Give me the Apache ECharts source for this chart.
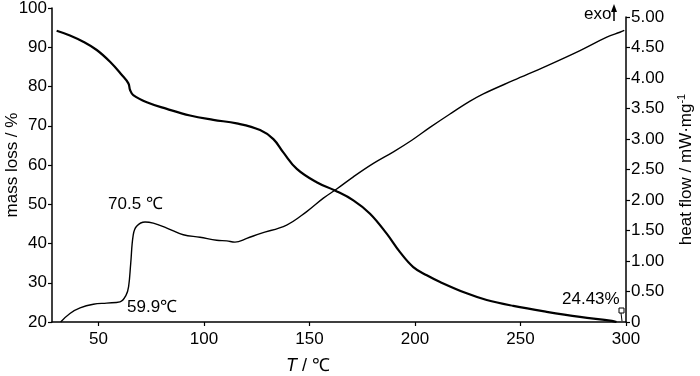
<!DOCTYPE html>
<html>
<head>
<meta charset="utf-8">
<script src="https://cdn.jsdelivr.net/npm/echarts@6/dist/echarts.min.js"></script>
<style>
  html, body { margin: 0; padding: 0; background: #fff; }
  #chart { width: 700px; height: 376px; }
</style>
</head>
<body>
<div id="chart"></div>
<script>
// TG / DSC curves, temperature in ℃
const FONT = "'Liberation Sans', Arial, sans-serif";

const tempTicks = [50, 100, 150, 200, 250, 300];

// mass loss curve (left axis, %)
const massT = [30.2, 36.5, 42.8, 49.2, 55.5, 61.0, 64.2, 65.0, 66.5, 72.9, 82.4, 93.4, 104.4, 115.5,
  126.6, 132.9, 137.6, 144.0, 153.4, 162.1, 170.8, 178.7, 186.6, 192.9, 199.2, 205.6, 211.9,
  224.5, 234.0, 246.6, 262.4, 278.2, 293.3, 295.5];
const massVal = [94.2, 93.0, 91.4, 89.3, 86.3, 83.0, 80.8, 79.1, 77.8, 76.0, 74.3, 72.6, 71.5, 70.6,
  68.9, 66.6, 63.2, 59.0, 55.6, 53.5, 51.0, 47.6, 42.5, 37.8, 34.0, 31.9, 30.2,
  27.3, 25.6, 24.1, 22.6, 21.3, 20.3, 20.0];

// heat flow curve (right axis, mW·mg-1)
const heatT = [32.1, 36.5, 41.3, 47.6, 53.9, 60.2, 63.1, 64.3, 65.3, 66.5, 68.1, 72.1, 76.0, 82.4,
  90.2, 98.1, 106.0, 110.8, 114.7, 120.3, 126.6, 139.2, 148.7, 156.6, 162.9, 170.8, 180.3,
  189.8, 198.5, 207.1, 216.6, 226.1, 232.4, 246.6, 262.5, 278.2, 290.9, 297.1, 299.2];
const heatVal = [0.0, 0.14, 0.23, 0.29, 0.31, 0.33, 0.44, 0.58, 0.96, 1.43, 1.57, 1.64, 1.62, 1.54,
  1.43, 1.39, 1.34, 1.33, 1.31, 1.37, 1.45, 1.59, 1.81, 2.03, 2.18, 2.38, 2.60,
  2.79, 2.98, 3.19, 3.41, 3.62, 3.74, 3.96, 4.20, 4.45, 4.67, 4.75, 4.78];

const pairs = (xs, ys) => xs.map((x, i) => [x, ys[i]]);

const axisCommon = {
  axisLine: { show: true, lineStyle: { color: '#000', width: 1.5 } },
  axisTick: { show: true, inside: false, length: 4, lineStyle: { color: '#000', width: 1.2 } },
  axisLabel: { color: '#000', fontFamily: FONT, fontSize: 17 },
  splitLine: { show: false }
};

const chart = echarts.init(document.getElementById('chart'));

chart.setOption({
  animation: false,
  backgroundColor: '#fff',
  grid: [
    { left: 52, right: 74, top: 8, bottom: 54, containLabel: false, outerBoundsMode: 'none' },
    { left: 52, right: 74, top: 17, bottom: 54, containLabel: false, outerBoundsMode: 'none' }
  ],
  xAxis: [
    {
      ...axisCommon,
      type: 'value', gridIndex: 0, min: 28, max: 300,
      axisTick: { ...axisCommon.axisTick, customValues: tempTicks },
      axisLabel: { ...axisCommon.axisLabel, margin: 9, customValues: tempTicks },
      name: '{i|T} / ℃',
      nameLocation: 'middle',
      nameGap: 35,
      nameMoveOverlap: false,
      nameTextStyle: {
        color: '#000', fontFamily: FONT, fontSize: 18, padding: [0, 62, 0, 0],
        rich: { i: { fontStyle: 'italic', fontFamily: FONT, fontSize: 18, color: '#000' } }
      }
    },
    { type: 'value', gridIndex: 1, min: 28, max: 300, show: false }
  ],
  yAxis: [
    {
      ...axisCommon,
      type: 'value', gridIndex: 0, min: 20, max: 100, interval: 10,
      axisLabel: { ...axisCommon.axisLabel, margin: 5 },
      name: 'mass loss / %',
      nameLocation: 'middle',
      nameGap: 31,
      nameMoveOverlap: false,
      nameTextStyle: { color: '#000', fontFamily: FONT, fontSize: 17 }
    },
    {
      ...axisCommon,
      type: 'value', gridIndex: 1, position: 'right', min: 0, max: 5, interval: 0.5,
      axisLabel: {
        ...axisCommon.axisLabel, margin: 5,
        formatter: v => (v === 0 ? '0' : v.toFixed(2))
      },
      name: 'heat flow / mW·mg{sup|-1}',
      nameLocation: 'middle',
      nameGap: 50,
      nameMoveOverlap: false,
      nameTextStyle: {
        color: '#000', fontFamily: FONT, fontSize: 17,
        rich: { sup: { fontFamily: FONT, fontSize: 11, color: '#000', padding: [0, 0, 10, 0] } }
      }
    }
  ],
  series: [
    {
      name: 'mass', type: 'line', xAxisIndex: 0, yAxisIndex: 0,
      data: pairs(massT, massVal),
      showSymbol: false, smooth: 0.4,
      lineStyle: { color: '#000', width: 2.2 }
    },
    {
      name: 'heat', type: 'line', xAxisIndex: 1, yAxisIndex: 1,
      data: pairs(heatT, heatVal),
      showSymbol: false, smooth: 0.4,
      lineStyle: { color: '#000', width: 1.4 }
    }
  ],
  graphic: [
    { type: 'text', left: 108, top: 196, style: { text: '70.5 ℃', font: '17px ' + FONT, fill: '#000' } },
    { type: 'text', left: 127, top: 299, style: { text: '59.9℃', font: '17px ' + FONT, fill: '#000' } },
    { type: 'text', left: 562, top: 291, style: { text: '24.43%', font: '17px ' + FONT, fill: '#000' } },
    { type: 'text', left: 584, top: 6, style: { text: 'exo', font: '17px ' + FONT, fill: '#000' } },
    { type: 'line', shape: { x1: 614, y1: 10, x2: 614, y2: 21 }, style: { stroke: '#000', lineWidth: 1.5 } },
    { type: 'polygon', shape: { points: [[614, 4], [611, 12], [617, 12]] }, style: { fill: '#000' } },
    { type: 'rect', shape: { x: 619, y: 308, width: 5, height: 5 }, style: { fill: '#fff', stroke: '#000', lineWidth: 1 } },
    { type: 'line', shape: { x1: 621, y1: 313, x2: 622, y2: 321 }, style: { stroke: '#000', lineWidth: 1 } }
  ]
});
</script>
</body>
</html>
